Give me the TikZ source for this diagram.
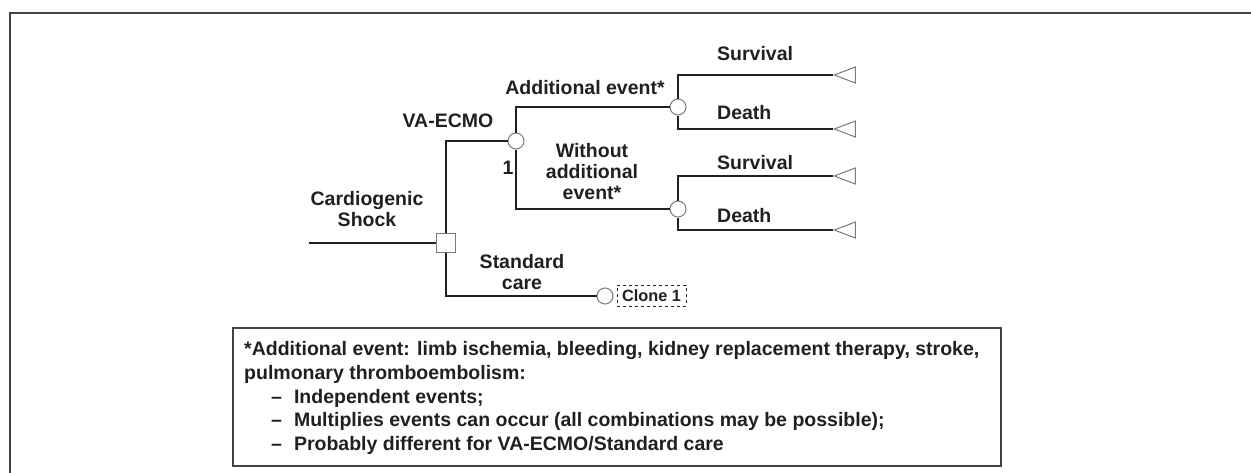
\documentclass[tikz,border=0pt]{standalone}
\usepackage{fontspec}
\setmainfont{Liberation Sans}
\usetikzlibrary{shapes.geometric}
\definecolor{ink}{HTML}{231F20}
\definecolor{shapegray}{HTML}{7A7A7A}
\tikzset{
  lbl/.style={font=\bfseries\fontsize{19.5}{21}\selectfont, text=ink, inner sep=0pt, align=center},
  foot/.style={font=\bfseries\fontsize{19.5}{23}\selectfont, text=ink, inner sep=0pt, anchor=base west},
  branch/.style={draw=ink, line width=1.8pt},
  chance/.style={circle, draw=shapegray, fill=white, line width=1pt, minimum size=16pt, inner sep=0pt},
  decision/.style={rectangle, draw=shapegray, fill=white, line width=1pt, minimum size=19pt, inner sep=0pt},
  terminal/.style={isosceles triangle, shape border rotate=180, isosceles triangle stretches,
    draw=shapegray, fill=white, line width=1pt, minimum height=21pt, minimum width=16pt, inner sep=0pt, anchor=apex},
  clonebox/.style={draw=ink, dashed, line width=1pt, inner sep=0pt, minimum width=69pt, minimum height=21pt,
    font=\bfseries\fontsize{16.3}{18}\selectfont, text=ink},
}
\begin{document}
\begin{tikzpicture}[x=1pt,y=-1pt]
\useasboundingbox (0,0) rectangle (1251,472);
% outer frame (cut at right and bottom)
\draw[draw=ink!85, line width=1.5pt] (10,480) -- (10,13) -- (1260,13);

% tree nodes
\coordinate (cs) at (309,243);
\node[decision] (sq) at (446,243) {};
\node[chance] (va) at (516,141) {};
\node[chance] (c1) at (678,107) {};
\node[chance] (c2) at (678,209) {};
\node[chance] (sc) at (605,296) {};
\node[terminal] (t1) at (833,75) {};
\node[terminal] (t2) at (833,129) {};
\node[terminal] (t3) at (833,176) {};
\node[terminal] (t4) at (833,230) {};
\node[clonebox] (clone) at (651.5,295.5) {Clone 1};

% connectors
\draw[branch] (cs) -- (sq.west);
\draw[branch] (sq.north) |- (va.west);
\draw[branch] (sq.south) |- (sc.west);
\draw[branch] (va.north) |- (c1.west);
\draw[branch] (va.south) |- (c2.west);
\draw[branch] (c1.north) |- (t1.apex);
\draw[branch] (c1.south) |- (t2.apex);
\draw[branch] (c2.north) |- (t3.apex);
\draw[branch] (c2.south) |- (t4.apex);

% labels
\node[lbl] (lcs) at (367,209) {Cardiogenic\\Shock};
\node[lbl] (lva) at (448,121) {VA-ECMO};
\node[lbl] (lone) at (508,168) {1};
\node[lbl] (lae) at (585,88) {Additional event*};
\node[lbl] (lwo) at (592,172) {Without\\additional\\event*};
\node[lbl, anchor=west] (ls1) at (717,54) {Survival};
\node[lbl, anchor=west] (ld1) at (717,113) {Death};
\node[lbl, anchor=west] (ls2) at (717,163) {Survival};
\node[lbl, anchor=west] (ld2) at (717,216) {Death};
\node[lbl] (lsc) at (522,272) {Standard\\care};

% footnote box
\node[draw=ink!85, line width=1.5pt, minimum width=768pt, minimum height=138pt, inner sep=0pt, anchor=north west] (box) at (232,327) {};
\node[foot] (f1) at (244,355) {*Additional event: limb ischemia, bleeding, kidney replacement therapy, stroke,};
\node[foot] (f2) at (244,379) {pulmonary thromboembolism:};
\node[foot] (f3) at (244,403) {\hspace*{27pt}–\hspace*{12pt}Independent events;};
\node[foot] (f4) at (244,426) {\hspace*{27pt}–\hspace*{12pt}Multiplies events can occur (all combinations may be possible);};
\node[foot] (f5) at (244,450) {\hspace*{27pt}–\hspace*{12pt}Probably different for VA-ECMO/Standard care};
\end{tikzpicture}
\end{document}
